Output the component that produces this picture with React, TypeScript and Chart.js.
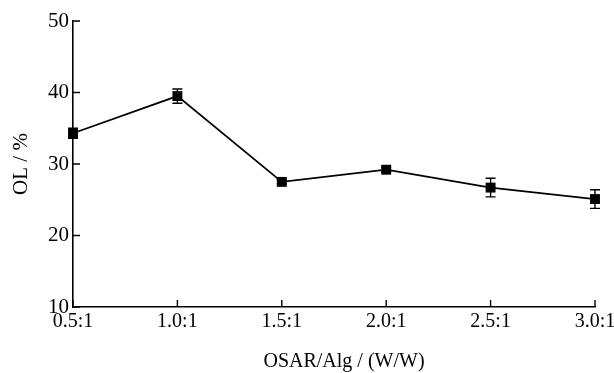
import React, { useEffect, useRef } from "react";
import { Chart, registerables } from "chart.js";

Chart.register(...registerables);

const categories = ["0.5:1", "1.0:1", "1.5:1", "2.0:1", "2.5:1", "3.0:1"];
const olValues = [34.3, 39.5, 27.5, 29.2, 26.7, 25.1];
const olErrors = [0.7, 1.0, 0.3, 0.3, 1.3, 1.3];
const yTicks = [10, 20, 30, 40, 50];
const xTitle = "OSAR/Alg / (W/W)";
const yTitle = "OL / %";

const FONT = "'Liberation Serif', 'Times New Roman', serif";

const customPlugin = {
  id: "customDraw",
  afterDatasetsDraw(chart: any) {
    const ctx = chart.ctx;
    const x = chart.scales.x;
    const y = chart.scales.y;
    ctx.save();
    ctx.strokeStyle = "#000";
    ctx.lineWidth = 1.4;
    // error bars
    olValues.forEach((v, i) => {
      const px = x.getPixelForValue(i);
      const top = y.getPixelForValue(v + olErrors[i]);
      const bot = y.getPixelForValue(v - olErrors[i]);
      ctx.beginPath();
      ctx.moveTo(px, top);
      ctx.lineTo(px, bot);
      ctx.moveTo(px - 5, top);
      ctx.lineTo(px + 5, top);
      ctx.moveTo(px - 5, bot);
      ctx.lineTo(px + 5, bot);
      ctx.stroke();
    });
    // inward ticks
    const area = chart.chartArea;
    ctx.beginPath();
    yTicks.forEach((t) => {
      const py = y.getPixelForValue(t);
      ctx.moveTo(area.left, py);
      ctx.lineTo(area.left + 7, py);
    });
    categories.forEach((_, i) => {
      const px = x.getPixelForValue(i);
      ctx.moveTo(px, area.bottom);
      ctx.lineTo(px, area.bottom - 7);
    });
    ctx.stroke();
    // axis titles
    ctx.fillStyle = "#000";
    ctx.font = `20px ${FONT}`;
    ctx.textAlign = "center";
    ctx.textBaseline = "middle";
    ctx.fillText(xTitle, 344, 362);
    ctx.translate(21, 164);
    ctx.rotate(-Math.PI / 2);
    ctx.font = `21px ${FONT}`;
    ctx.fillText(yTitle, 0, 0);
    ctx.restore();
  },
};

export default function App() {
  const ref = useRef<HTMLCanvasElement | null>(null);
  useEffect(() => {
    document.body.style.margin = "0";
    const canvas = ref.current;
    if (!canvas) return;
    const chart = new Chart(canvas, {
      type: "line",
      data: {
        labels: categories,
        datasets: [
          {
            data: olValues,
            borderColor: "#000",
            borderWidth: 1.7,
            backgroundColor: "#000",
            pointStyle: "rect",
            pointRadius: 7,
            pointBorderWidth: 0,
            pointBackgroundColor: "#000",
            tension: 0,
          },
        ],
      },
      options: {
        responsive: false,
        animation: false,
        devicePixelRatio: 1,
        layout: { padding: { top: 21, right: 19, left: 0, bottom: 0 } },
        plugins: {
          legend: { display: false },
          tooltip: { enabled: false },
          title: { display: false },
        },
        scales: {
          x: {
            type: "category",
            offset: false,
            grid: { display: true, drawOnChartArea: false, drawTicks: false },
            border: { display: true, color: "#000", width: 1.6 },
            ticks: {
              color: "#000",
              font: { family: FONT, size: 20 },
              padding: 3,
              maxRotation: 0,
              autoSkip: false,
            },
            afterFit: (s: any) => {
              s.height = 66;
              s.paddingRight = 0;
              s.paddingLeft = 0;
            },
          },
          y: {
            min: 10,
            max: 50,
            grid: { display: true, drawOnChartArea: false, drawTicks: false },
            border: { display: true, color: "#000", width: 1.6 },
            ticks: {
              stepSize: 10,
              color: "#000",
              font: { family: FONT, size: 21 },
              padding: 4,
            },
            afterFit: (s: any) => {
              s.width = 73;
            },
          },
        },
      },
      plugins: [customPlugin],
    });
    return () => chart.destroy();
  }, []);
  return (
    <div style={{ width: 614, height: 373 }}>
      <canvas ref={ref} width={614} height={373} />
    </div>
  );
}
